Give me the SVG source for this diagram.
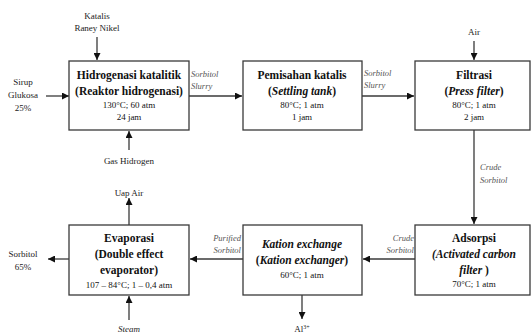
<svg xmlns="http://www.w3.org/2000/svg" width="531" height="335" viewBox="0 0 531 335">
<style>
.box{fill:#fff;stroke:#3a3a3a;stroke-width:1.3}
.ln{stroke:#3a3a3a;stroke-width:1.3;fill:none}
text{font-family:'Liberation Serif','Times New Roman','DejaVu Serif',serif}
.t{text-anchor:middle;fill:#111}
.b{font-size:11.5px;font-weight:bold}
.s{font-size:9px}
.lab{font-size:8.5px;font-style:italic;fill:#555}
.io{font-size:9px;fill:#222;text-anchor:middle}
</style>
<defs>
<marker id="ah" viewBox="0 0 10 10" refX="10" refY="5" markerWidth="7" markerHeight="7" markerUnits="userSpaceOnUse" orient="auto">
<path d="M0,0 L10,5 L0,10 z" fill="#111"/>
</marker>
</defs>
<rect width="531" height="335" fill="#fff"/>
<g id="connectors">
<line class="ln" x1="97" y1="37" x2="97" y2="60" marker-end="url(#ah)"/>
<line class="ln" x1="46" y1="96" x2="69" y2="96" marker-end="url(#ah)"/>
<line class="ln" x1="129" y1="150" x2="129" y2="131" marker-end="url(#ah)"/>
<line class="ln" x1="189" y1="96" x2="242" y2="96" marker-end="url(#ah)"/>
<line class="ln" x1="362" y1="96" x2="414" y2="96" marker-end="url(#ah)"/>
<line class="ln" x1="474" y1="41" x2="474" y2="60" marker-end="url(#ah)"/>
<line class="ln" x1="474" y1="130" x2="474" y2="224" marker-end="url(#ah)"/>
<line class="ln" x1="415" y1="259" x2="363" y2="259" marker-end="url(#ah)"/>
<line class="ln" x1="243" y1="259" x2="190" y2="259" marker-end="url(#ah)"/>
<line class="ln" x1="302" y1="295" x2="302" y2="319" marker-end="url(#ah)"/>
<line class="ln" x1="129" y1="225" x2="129" y2="198" marker-end="url(#ah)"/>
<line class="ln" x1="69" y1="259" x2="48" y2="259" marker-end="url(#ah)"/>
<line class="ln" x1="129" y1="320" x2="129" y2="296" marker-end="url(#ah)"/>
<text class="lab" x="191" y="77">Sorbitol</text>
<text class="lab" x="191" y="89">Slurry</text>
<text class="lab" x="364" y="76">Sorbitol</text>
<text class="lab" x="364" y="88">Slurry</text>
<text class="lab" x="480" y="170">Crude</text>
<text class="lab" x="480" y="183">Sorbitol</text>
<text class="lab" x="414" y="241" text-anchor="end">Crude</text>
<text class="lab" x="414" y="253" text-anchor="end">Sorbitol</text>
<text class="lab" x="241" y="241" text-anchor="end">Purified</text>
<text class="lab" x="241" y="253" text-anchor="end">Sorbitol</text>
</g>
<g id="inputs">
<text class="io" x="97" y="19">Katalis</text>
<text class="io" x="97" y="31">Raney Nikel</text>
<text class="io" x="23" y="85">Sirup</text>
<text class="io" x="23" y="98">Glukosa</text>
<text class="io" x="23" y="111">25%</text>
<text class="io" x="129" y="164">Gas Hidrogen</text>
<text class="io" x="474" y="35">Air</text>
<text class="io" x="302" y="332">Al<tspan font-size="6" dy="-3">3+</tspan></text>
<text class="io" x="129" y="196">Uap Air</text>
<text class="io" x="23" y="257">Sorbitol</text>
<text class="io" x="23" y="270">65%</text>
<text class="io" x="129" y="332" font-style="italic">Steam</text>
</g>
<g id="hidrogenasi">
<rect class="box" x="69" y="61" width="120" height="69"/>
<text class="t b" x="129" y="79">Hidrogenasi katalitik</text>
<text class="t b" x="129" y="95">(Reaktor hidrogenasi)</text>
<text class="t s" x="129" y="108">130°C; 60 atm</text>
<text class="t s" x="129" y="120">24 jam</text>
</g>
<g id="pemisahan">
<rect class="box" x="243" y="61" width="119" height="69"/>
<text class="t b" x="302" y="79">Pemisahan katalis</text>
<text class="t b" x="302" y="95">(<tspan font-style="italic">Settling tank</tspan>)</text>
<text class="t s" x="302" y="108">80°C; 1 atm</text>
<text class="t s" x="302" y="120">1 jam</text>
</g>
<g id="filtrasi">
<rect class="box" x="415" y="61" width="115" height="69"/>
<text class="t b" x="474" y="79">Filtrasi</text>
<text class="t b" x="474" y="95">(<tspan font-style="italic">Press filter</tspan>)</text>
<text class="t s" x="474" y="108">80°C; 1 atm</text>
<text class="t s" x="474" y="120">2 jam</text>
</g>
<g id="adsorpsi">
<rect class="box" x="415" y="225" width="115" height="70"/>
<text class="t b" x="474" y="242">Adsorpsi</text>
<text class="t b" x="474" y="258" font-style="italic">(Activated carbon</text>
<text class="t b" x="474" y="274"><tspan font-style="italic">filter</tspan> )</text>
<text class="t s" x="474" y="287">70°C; 1 atm</text>
</g>
<g id="kation">
<rect class="box" x="243" y="225" width="119" height="70"/>
<text class="t b" x="302" y="248" font-style="italic">Kation exchange</text>
<text class="t b" x="302" y="264">(<tspan font-style="italic">Kation exchanger</tspan>)</text>
<text class="t s" x="302" y="278">60°C; 1 atm</text>
</g>
<g id="evaporasi">
<rect class="box" x="69" y="225" width="120" height="70"/>
<text class="t b" x="129" y="242">Evaporasi</text>
<text class="t b" x="129" y="258">(Double effect</text>
<text class="t b" x="129" y="274">evaporator)</text>
<text class="t s" x="129" y="288">107 – 84°C; 1 – 0,4 atm</text>
</g>
</svg>
